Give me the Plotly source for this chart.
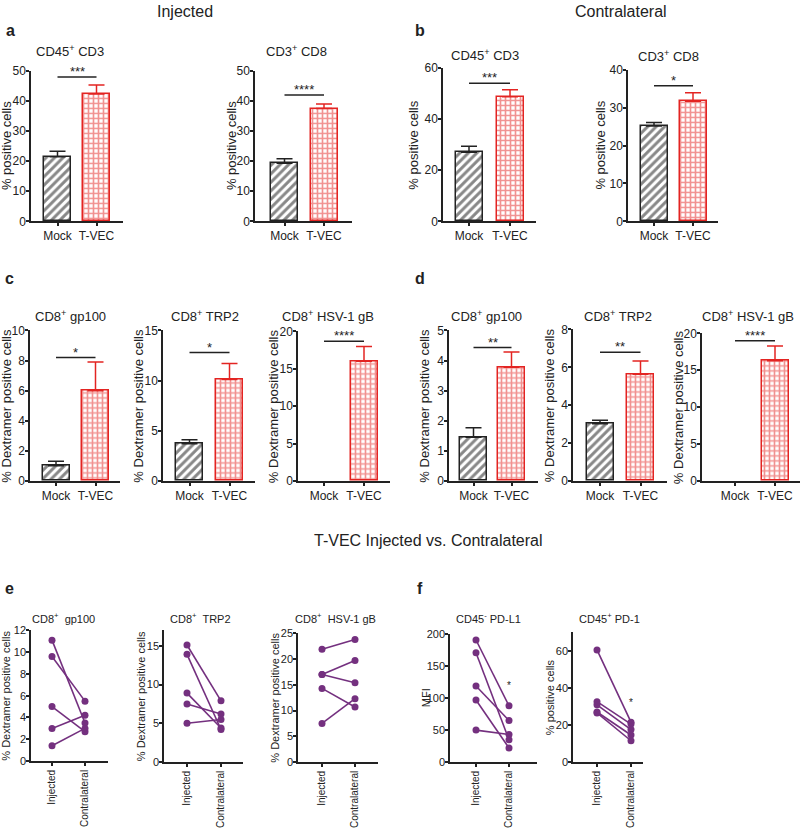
import plotly.graph_objects as go

# ---------------- data ----------------
bar_categories = ["Mock", "T-VEC"]
pair_categories = ["Injected", "Contralateral"]

# panel a (Injected)
a_cd45_cd3_mean = [21.5, 42.3]
a_cd45_cd3_err = [1.8, 3.0]
a_cd3_cd8_mean = [19.3, 37.5]
a_cd3_cd8_err = [1.5, 1.5]
# panel b (Contralateral)
b_cd45_cd3_mean = [27.0, 48.7]
b_cd45_cd3_err = [2.4, 2.8]
b_cd3_cd8_mean = [25.2, 31.7]
b_cd3_cd8_err = [0.9, 2.3]
# panel c (Injected, dextramer)
c_gp100_mean = [1.0, 6.0]
c_gp100_err = [0.3, 1.9]
c_trp2_mean = [3.7, 10.1]
c_trp2_err = [0.4, 1.6]
c_hsv_mean = [0.0, 16.0]
c_hsv_err = [0.0, 2.0]
# panel d (Contralateral, dextramer)
d_gp100_mean = [1.45, 3.78]
d_gp100_err = [0.32, 0.5]
d_trp2_mean = [3.02, 5.63]
d_trp2_err = [0.18, 0.7]
d_hsv_mean = [0.0, 16.3]
d_hsv_err = [0.0, 2.0]

sig_labels = ["***", "****", "***", "*", "*", "*", "****", "**", "**", "****"]
sig_levels = [48, 42, 54, 35.8, 8.2, 12.8, 18.7, 4.43, 6.8, 19.0]

# panel e (paired, % dextramer positive)
e_gp100_inj = [11.1, 9.6, 5.0, 3.0, 1.4]
e_gp100_con = [3.5, 5.5, 2.7, 4.2, 3.0]
e_trp2_inj = [15.1, 13.9, 8.9, 7.5, 5.0]
e_trp2_con = [7.9, 4.2, 4.4, 6.2, 5.5]
e_hsv_inj = [21.9, 17.0, 17.0, 14.3, 7.5]
e_hsv_con = [23.8, 19.7, 15.4, 10.7, 12.3]
# panel f
f_pdl1_inj = [191, 171, 119, 97, 50]
f_pdl1_con = [88, 35, 65, 22, 43]
f_pd1_inj = [60.5, 32.6, 30.9, 27.0, 26.5]
f_pd1_con = [21.5, 20.5, 17.5, 14.6, 11.5]
f_star_levels = [120, 32]

# ---------------- layout helpers ----------------
W, H = 800, 831
FONT = "Liberation Sans, Arial, sans-serif"
RED = "#e32422"
PURPLE = "#74307f"
INK = "#222222"


def dom_x(px0, px1):
    return [px0 / W, px1 / W]


def dom_y(top, bottom):
    return [(H - bottom) / H, (H - top) / H]


fig = go.Figure()
layout = dict(
    width=W, height=H, margin=dict(l=0, r=0, t=0, b=0),
    paper_bgcolor="white", plot_bgcolor="white", showlegend=False,
    font=dict(family=FONT, color=INK, size=12),
    shapes=[], annotations=[], bargap=0,
)

# bar panels: (title, mean, err, ymax, dtick, ylabel, box(x0, c0, c1, x1, ytop, ybottom), title_x, title_y, ylabel_x)
bar_panels = [
    ("CD45<sup>+</sup> CD3", a_cd45_cd3_mean, a_cd45_cd3_err, 50, 10, "% positive cells", (31, 57.5, 96.5, 123, 65, 218), 70, 45, 6),
    ("CD3<sup>+</sup> CD8", a_cd3_cd8_mean, a_cd3_cd8_err, 50, 10, "% positive cells", (255, 284.5, 324, 352, 65, 218), 296, 45, 231),
    ("CD45<sup>+</sup> CD3", b_cd45_cd3_mean, b_cd45_cd3_err, 60, 20, "% positive cells", (443, 469, 510, 536, 62, 218), 485, 49, 414),
    ("CD3<sup>+</sup> CD8", b_cd3_cd8_mean, b_cd3_cd8_err, 40, 10, "% positive cells", (628, 654, 693, 718, 64, 218), 668, 50, 601),
    ("CD8<sup>+</sup> gp100", c_gp100_mean, c_gp100_err, 10, 2, "% Dextramer positive cells", (30, 56, 95.5, 120, 329, 482), 70, 314, 7),
    ("CD8<sup>+</sup> TRP2", c_trp2_mean, c_trp2_err, 15, 5, "% Dextramer positive cells", (163, 189.5, 229.5, 255, 329, 482), 205, 314, 139),
    ("CD8<sup>+</sup> HSV-1 gB", c_hsv_mean, c_hsv_err, 20, 5, "% Dextramer positive cells", (298, 324, 364, 390, 330, 482), 328, 314, 273),
    ("CD8<sup>+</sup> gp100", d_gp100_mean, d_gp100_err, 5, 1, "% Dextramer positive cells", (449, 473.5, 511.5, 538, 329, 482), 486, 314, 425),
    ("CD8<sup>+</sup> TRP2", d_trp2_mean, d_trp2_err, 8, 2, "% Dextramer positive cells", (573, 600, 640.5, 667, 328, 482), 618, 314, 549),
    ("CD8<sup>+</sup> HSV-1 gB", d_hsv_mean, d_hsv_err, 20, 5, "% Dextramer positive cells", (702, 735, 775, 800, 332, 482), 748, 314, 678),
]

line_panels = [
    ("CD8<sup>+</sup>  gp100", e_gp100_inj, e_gp100_con, 12, 2, "% Dextramer positive cells", (31, 52, 85, 108, 634, 767), 63, 621, 6, None),
    ("CD8<sup>+</sup>  TRP2", e_trp2_inj, e_trp2_con, 17, 5, "% Dextramer positive cells", (164, 187, 221, 243, 634, 768), 200, 621, 141, None),
    ("CD8<sup>+</sup>  HSV-1 gB", e_hsv_inj, e_hsv_con, 25, 5, "% Dextramer positive cells", (298, 322, 355, 378, 637, 768), 335, 621, 275, None),
    ("CD45<sup>-</sup> PD-L1", f_pdl1_inj, f_pdl1_con, 200, 50, "MFI", (450, 476, 509, 537, 638, 768), 488, 621, 426, f_star_levels[0]),
    ("CD45<sup>+</sup> PD-1", f_pd1_inj, f_pd1_con, 70, 20, "% positive cells", (573, 597, 631, 643, 636, 768), 609, 621, 550, f_star_levels[1]),
]


def axis_common(size, standoff=0):
    d = dict(showgrid=False, zeroline=False, showline=True, linecolor=INK,
             linewidth=1.5, ticks="outside", ticklen=3, tickwidth=1.5,
             tickcolor=INK, tickfont=dict(family=FONT, size=size, color=INK))
    if standoff:
        d["ticklabelstandoff"] = standoff
    return d


idx = 0
for p_i, (title, mean, err, ymax, dtick, ylab, box, tx, ty, ylx) in enumerate(bar_panels):
    idx += 1
    xa = "x" if idx == 1 else f"x{idx}"
    ya = "y" if idx == 1 else f"y{idx}"
    xk = "xaxis" if idx == 1 else f"xaxis{idx}"
    yk = "yaxis" if idx == 1 else f"yaxis{idx}"
    x0, c0, c1, x1, ytop, ybot = box
    sp = c1 - c0
    xr = [(x0 - c0) / sp, 1 + (x1 - c1) / sp]
    layout[xk] = dict(axis_common(12), domain=dom_x(x0, x1), range=xr, anchor=ya,
                      tickvals=[0, 1], ticktext=bar_categories, fixedrange=True)
    layout[yk] = dict(axis_common(12, -2), domain=dom_y(ytop, ybot), range=[0, ymax],
                      dtick=dtick, anchor=xa, fixedrange=True)
    bw = 27 / sp
    # Mock bar
    if mean[0] > 0:
        fig.add_trace(go.Bar(
            x=[0], y=[mean[0]], width=bw, xaxis=xa, yaxis=ya,
            marker=dict(color="white", line=dict(color=INK, width=1.5),
                        pattern=dict(shape="/", fgcolor="#111111", bgcolor="white",
                                     size=6, solidity=0.5)),
            error_y=dict(type="data", symmetric=False, array=[err[0]], arrayminus=[0],
                         color=INK, thickness=1.5, width=8)))
    # T-VEC bar
    fig.add_trace(go.Bar(
        x=[1], y=[mean[1]], width=bw, xaxis=xa, yaxis=ya,
        marker=dict(color=RED, line=dict(color=RED, width=1.5),
                    pattern=dict(shape="+", fgcolor=RED, bgcolor="white",
                                 size=5, solidity=0.55)),
        error_y=dict(type="data", symmetric=False, array=[err[1]], arrayminus=[0],
                     color=RED, thickness=1.5, width=8)))
    # significance
    layout["shapes"].append(dict(type="line", xref=xa, yref=ya, x0=0, x1=1,
                                 y0=sig_levels[p_i], y1=sig_levels[p_i],
                                 line=dict(color=INK, width=1.5)))
    layout["annotations"].append(dict(xref=xa, yref=ya, x=0.5, y=sig_levels[p_i],
                                      text=sig_labels[p_i], showarrow=False,
                                      yanchor="bottom", yshift=-4,
                                      font=dict(size=13, color=INK)))
    layout["annotations"].append(dict(xref="paper", yref="paper", x=tx / W, y=(H - ty) / H,
                                      text=title, showarrow=False, xanchor="center",
                                      yanchor="middle", font=dict(size=13, color=INK)))
    layout["annotations"].append(dict(xref="paper", yref="paper", x=ylx / W,
                                      y=(H - (ytop + ybot) / 2) / H, text=ylab,
                                      textangle=-90, showarrow=False, xanchor="center",
                                      yanchor="middle", font=dict(size=13, color=INK)))

for (title, inj, con, ymax, dtick, ylab, box, tx, ty, ylx, star) in line_panels:
    idx += 1
    xa, ya = f"x{idx}", f"y{idx}"
    xk, yk = f"xaxis{idx}", f"yaxis{idx}"
    x0, c0, c1, x1, ytop, ybot = box
    sp = c1 - c0
    xr = [(x0 - c0) / sp, 1 + (x1 - c1) / sp]
    layout[xk] = dict(axis_common(10), domain=dom_x(x0, x1), range=xr, anchor=ya,
                      tickvals=[0, 1], ticktext=pair_categories, tickangle=-90,
                      fixedrange=True)
    layout[yk] = dict(axis_common(11, -2), domain=dom_y(ytop, ybot), range=[0, ymax],
                      dtick=dtick, anchor=xa, fixedrange=True)
    xs, ys = [], []
    for a, b in zip(inj, con):
        xs += [0, 1, None]
        ys += [a, b, None]
    fig.add_trace(go.Scatter(x=xs, y=ys, mode="lines+markers", xaxis=xa, yaxis=ya,
                             line=dict(color=PURPLE, width=1.6),
                             marker=dict(color=PURPLE, size=7),
                             connectgaps=False, cliponaxis=False))
    if star is not None:
        layout["annotations"].append(dict(xref=xa, yref=ya, x=1, y=star, text="*",
                                          showarrow=False, yanchor="middle",
                                          font=dict(size=10, color=INK)))
    layout["annotations"].append(dict(xref="paper", yref="paper", x=tx / W, y=(H - ty) / H,
                                      text=title, showarrow=False, xanchor="center",
                                      yanchor="middle", font=dict(size=11, color=INK)))
    layout["annotations"].append(dict(xref="paper", yref="paper", x=ylx / W,
                                      y=(H - (ytop + ybot) / 2) / H, text=ylab,
                                      textangle=-90, showarrow=False, xanchor="center",
                                      yanchor="middle", font=dict(size=11, color=INK)))

# headings and panel letters
heads = [
    ("Injected", 185, 5, 16, False),
    ("Contralateral", 621, 5, 16, False),
    ("T-VEC Injected vs. Contralateral", 428, 543, 16, False),
    ("a", 10, 24, 16, True), ("b", 420, 24, 16, True),
    ("c", 9, 276, 16, True), ("d", 420, 276, 16, True),
    ("e", 9, 591, 16, True), ("f", 420, 591, 16, True),
]
for text, x, y, s, bold in heads:
    layout["annotations"].append(dict(xref="paper", yref="paper", x=x / W, y=(H - y) / H,
                                      text=f"<b>{text}</b>" if bold else text,
                                      showarrow=False, xanchor="center", yanchor="middle",
                                      font=dict(size=s, color=INK)))

fig.update_layout(**layout)
fig.write_html("out.html", config={"displayModeBar": False},
               post_script="document.body.style.margin='0px';document.body.style.overflow='hidden';")
